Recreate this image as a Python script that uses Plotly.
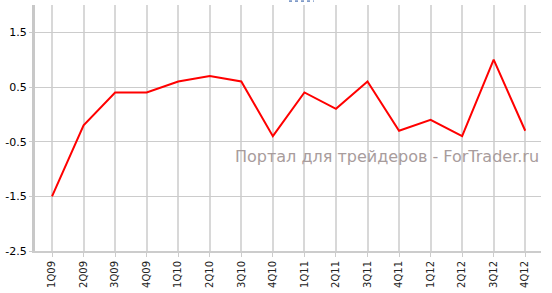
import plotly.graph_objects as go

quarters = ["1Q09", "2Q09", "3Q09", "4Q09", "1Q10", "2Q10", "3Q10", "4Q10",
            "1Q11", "2Q11", "3Q11", "4Q11", "1Q12", "2Q12", "3Q12", "4Q12"]
values = [-1.5, -0.2, 0.4, 0.4, 0.6, 0.7, 0.6, -0.4,
          0.4, 0.1, 0.6, -0.3, -0.1, -0.4, 1.0, -0.3]
y_ticks = [1.5, 0.5, -0.5, -1.5, -2.5]

fig = go.Figure()
fig.add_trace(go.Scatter(x=list(range(len(quarters))), y=values, mode="lines",
                         line=dict(color="#ff0000", width=2), hoverinfo="skip"))

fig.update_layout(
    width=552, height=293,
    margin=dict(l=35, r=11, t=5, b=40),
    paper_bgcolor="white", plot_bgcolor="white",
    showlegend=False,
    font=dict(family="DejaVu Sans", size=10, color="#000000"),
)
fig.update_xaxes(
    range=[-0.54, 15.5],
    tickmode="array", tickvals=list(range(len(quarters))), ticktext=quarters,
    tickangle=-90, tickfont=dict(size=10, color="#222222"),
    showgrid=True, gridcolor="#d8d8d8", gridwidth=2,
    showline=True, linecolor="#cccccc", linewidth=2,
    ticks="outside", ticklen=4, tickcolor="#cccccc",
    zeroline=False,
)
fig.update_yaxes(
    range=[-2.5, 2.0],
    tickmode="array", tickvals=y_ticks, ticktext=[str(v) for v in y_ticks],
    tickfont=dict(size=11, color="#000000"),
    showgrid=True, gridcolor="#cccccc", gridwidth=1,
    showline=True, linecolor="#c8c8c8", linewidth=3,
    ticks="outside", ticklen=3, tickcolor="#cccccc",
    zeroline=False,
)
fig.add_annotation(
    text="Портал для трейдеров - ForTrader.ru",
    xref="paper", yref="paper", x=1.0, y=0.385, xanchor="right", yanchor="middle",
    showarrow=False, font=dict(family="DejaVu Sans", size=16, color="#a89c9c"),
)
fig.add_shape(type="line", xref="paper", yref="paper", x0=0.502, x1=0.551, y0=1.016, y1=1.016,
              line=dict(color="#1f4f9f", width=1, dash="dot"))
fig.write_html("out.html")
